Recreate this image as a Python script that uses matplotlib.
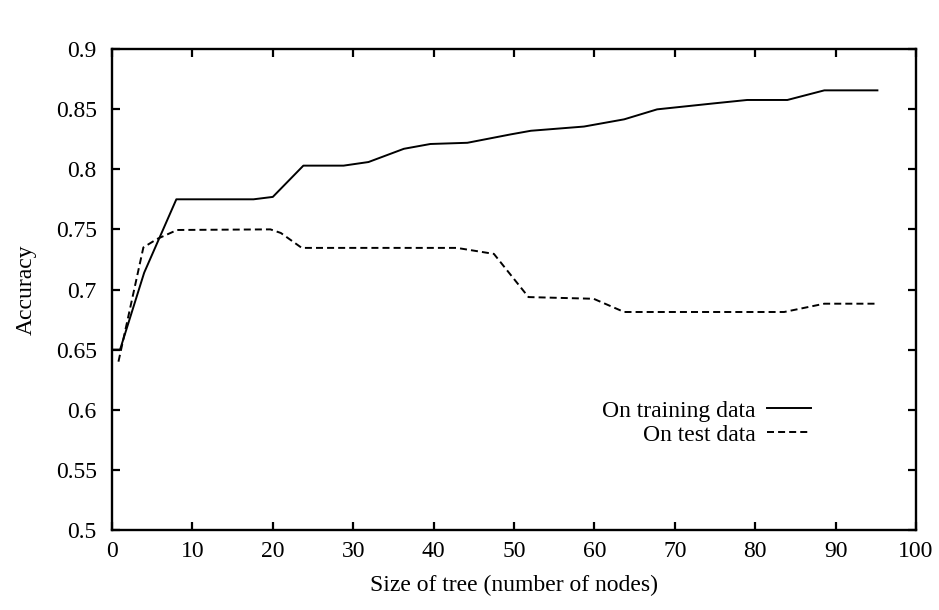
import numpy as np
import matplotlib
matplotlib.use("Agg")
import matplotlib.pyplot as plt

# values
train_x = [0, 1, 4, 8, 17.6, 20, 23.8, 28.8, 31.9, 36.3, 39.6, 44.2, 49.6,
           52.1, 58.7, 63.7, 67.8, 74.9, 79, 84, 88.6, 95.2]
train_acc = [0.65, 0.65, 0.714, 0.775, 0.775, 0.777, 0.803, 0.803, 0.806, 0.817, 0.821, 0.822, 0.829,
             0.832, 0.8355, 0.8415, 0.8498, 0.8548, 0.8576, 0.8576, 0.8656, 0.8656]

test_x = [0.8, 3.9, 5.6, 8.1, 19.7, 21, 23.6, 42.9, 47.5, 51.8, 59.9, 63.7, 83.6, 88.6, 95]
test_acc = [0.64, 0.735, 0.742, 0.7495, 0.75, 0.747, 0.7346, 0.7346, 0.7296, 0.6937, 0.6923,
            0.6813, 0.6813, 0.6882, 0.6882]

xticks = np.arange(0, 101, 10)
yticks = [0.5, 0.55, 0.6, 0.65, 0.7, 0.75, 0.8, 0.85, 0.9]
ytick_labels = ["0.5", "0.55", "0.6", "0.65", "0.7", "0.75", "0.8", "0.85", "0.9"]

plt.rcParams['font.family'] = ['Liberation Serif', 'DejaVu Serif']

fig = plt.figure(figsize=(9.39, 6.10), dpi=100)
ax = fig.add_axes([0.1193, 0.1311, 0.8562, 0.7886])

ax.plot(train_x, train_acc, color='black', lw=1.4, label='On training data')
ax.plot(test_x, test_acc, color='black', lw=1.4, linestyle=(0, (3.6, 2.1)), label='On test data')

ax.set_xlim(0, 100)
ax.set_ylim(0.5, 0.9)
ax.set_xticks(xticks)
ax.set_yticks(yticks)
ax.set_yticklabels(ytick_labels)
ax.tick_params(direction='in', length=6, width=1.6, top=True, right=True, labelsize=17)
ax.tick_params(axis='y', pad=11)
ax.tick_params(axis='x', pad=8)
for s in ax.spines.values():
    s.set_linewidth(1.7)

ax.set_xlabel('Size of tree (number of nodes)', fontsize=17, labelpad=9)
ax.set_ylabel('Accuracy', fontsize=17, labelpad=14)

ax.legend(loc='upper right', bbox_to_anchor=(0.87, 0.27), frameon=False,
          markerfirst=False, fontsize=17, borderpad=0, borderaxespad=0,
          handlelength=1.9, handletextpad=0.45, labelspacing=0.1)

fig.savefig('out.png', dpi=100)
